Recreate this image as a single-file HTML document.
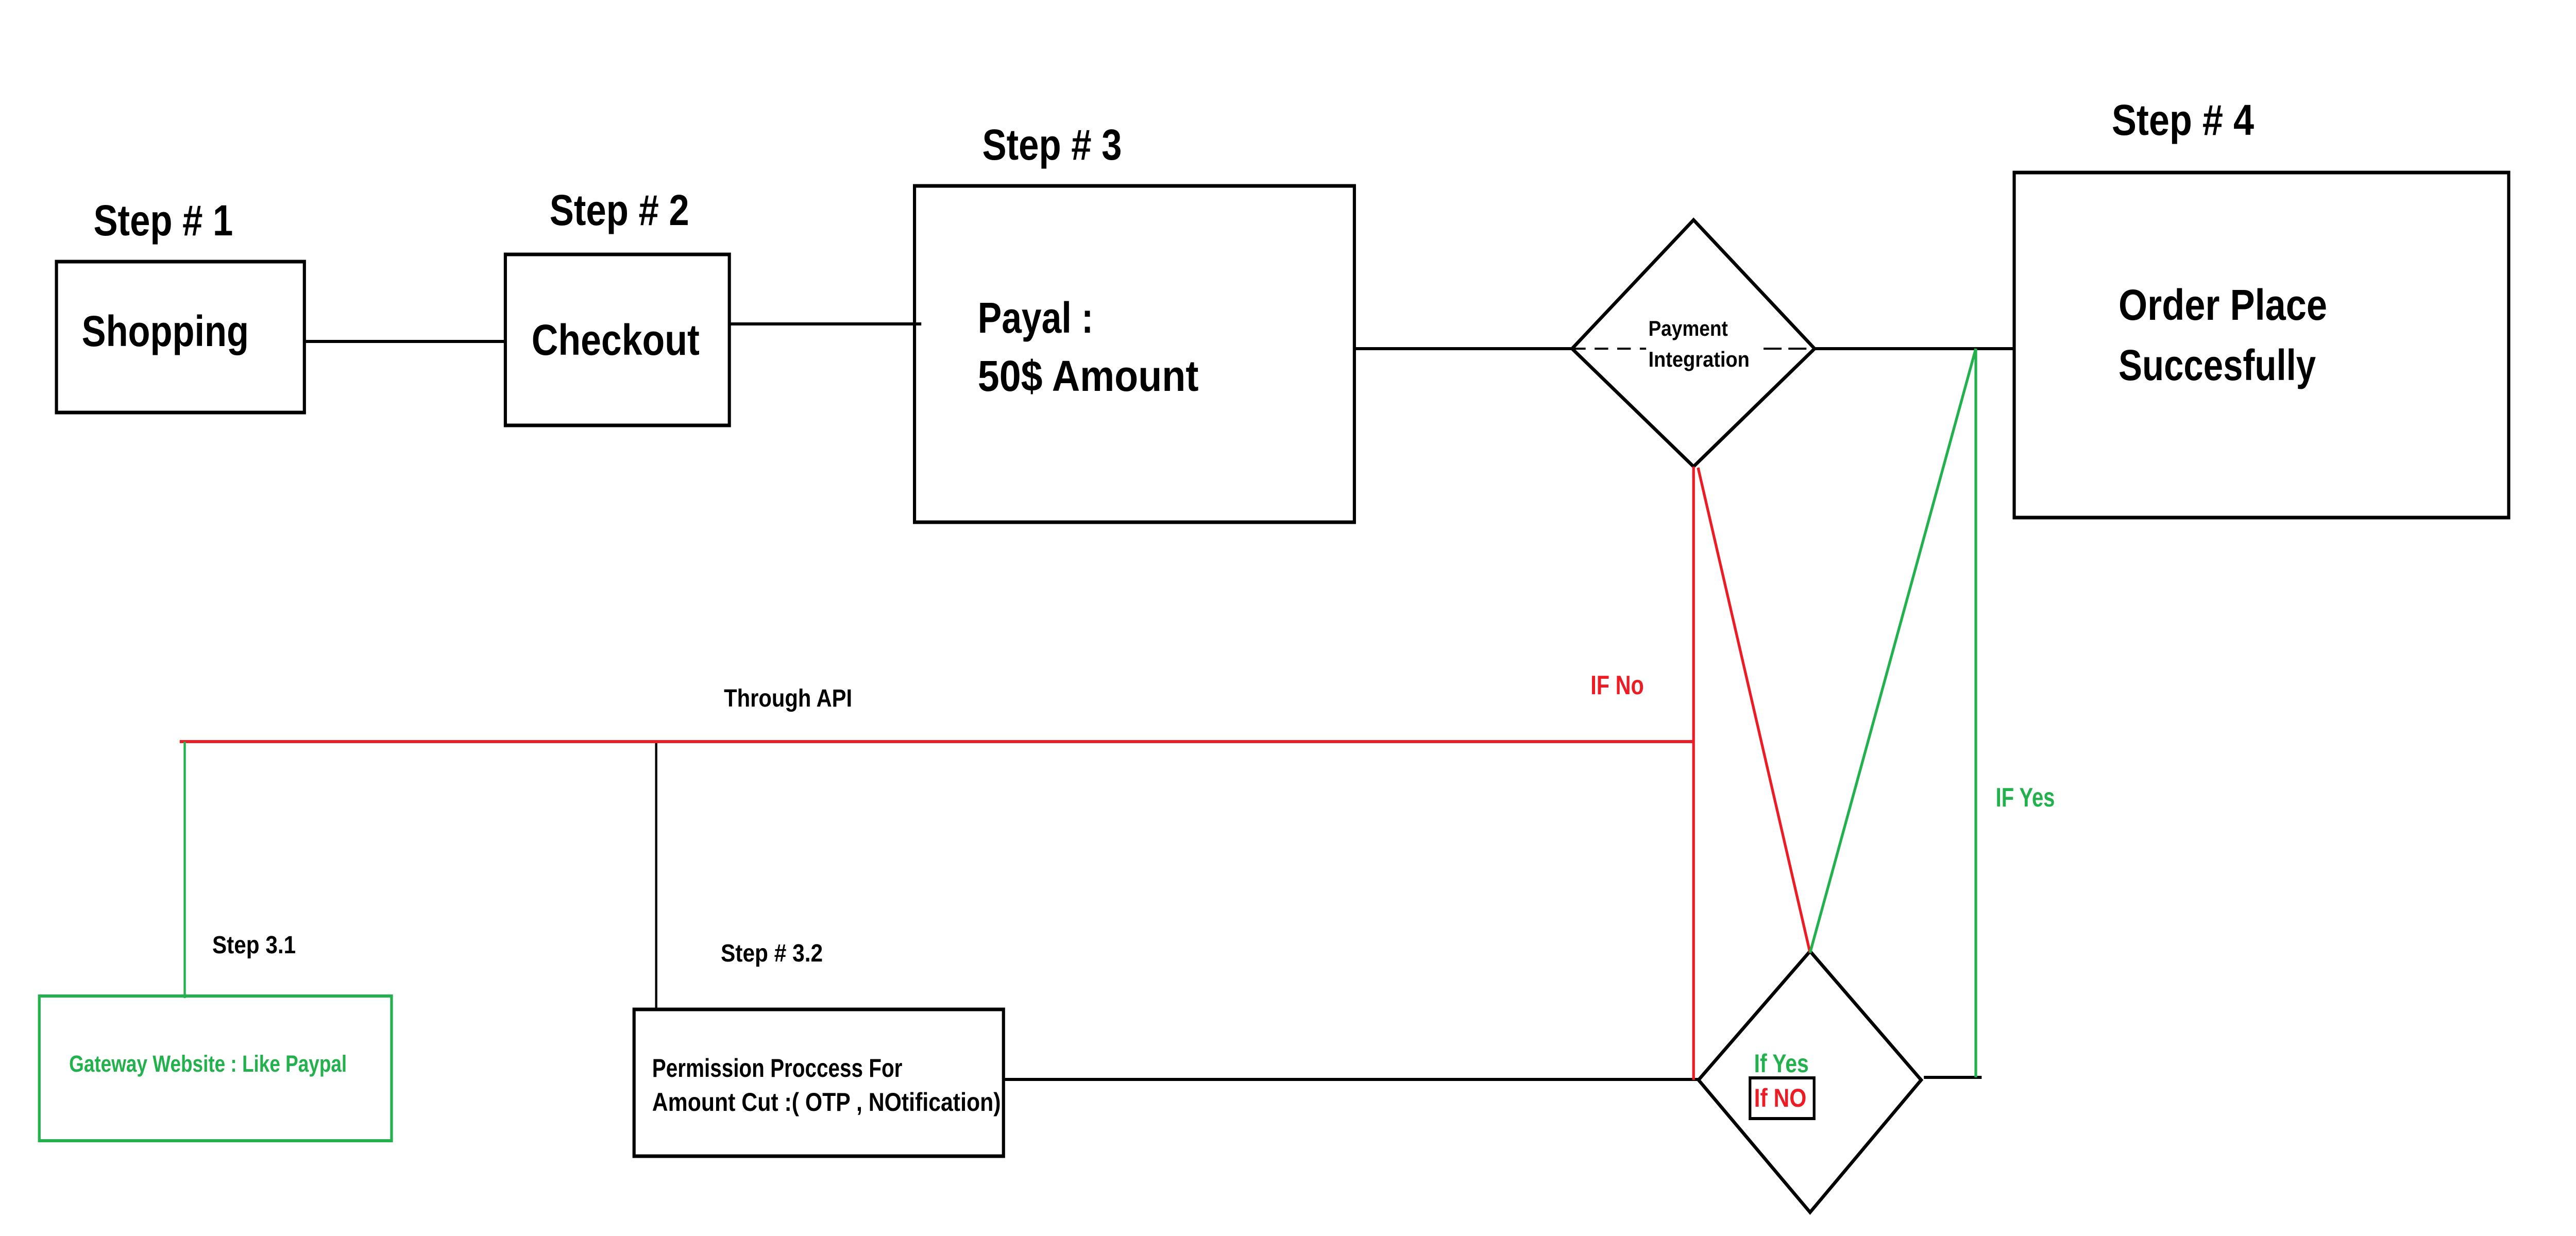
<!DOCTYPE html>
<html><head><meta charset="utf-8"><style>html,body{margin:0;padding:0;background:#fff;overflow:hidden;width:100vw;height:100vh}svg{display:block;width:100vw;height:100vh}text{font-family:"Liberation Sans",sans-serif;font-weight:bold}</style></head>
<body>
<svg viewBox="0 0 5704 2400" preserveAspectRatio="none" xmlns="http://www.w3.org/2000/svg">
<rect width="5704" height="2400" fill="#fff"/>
<g fill="none" stroke="#000" stroke-width="7">
<rect x="125" y="508" width="549" height="293"/>
<rect x="1119" y="494" width="496" height="332"/>
<rect x="2025" y="361" width="974" height="653"/>
<rect x="4460" y="335" width="1095" height="670"/>
<polygon points="3481,677 3750,427 4018,677 3750,906"/>
<polygon points="4008,1847 4254,2097 4008,2354 3761,2097"/>
<rect x="1404" y="1960" width="818" height="285"/>
<rect x="3875" y="2093" width="142" height="79" stroke-width="6"/>
</g>
<g stroke="#000" stroke-width="6" fill="none">
<line x1="674" y1="663" x2="1119" y2="663"/>
<line x1="1615" y1="629" x2="2040" y2="629"/>
<line x1="2999" y1="677" x2="3481" y2="677"/>
<line x1="4018" y1="677" x2="4460" y2="677"/>
<line x1="3481" y1="677" x2="3645" y2="677" stroke-dasharray="30,20" stroke-width="4"/>
<line x1="3905" y1="677" x2="4018" y2="677" stroke-dasharray="40,15" stroke-width="4"/>
<line x1="1453" y1="1440" x2="1453" y2="1960" stroke-width="5"/>
<line x1="2222" y1="2096" x2="3761" y2="2096"/>
<line x1="4260" y1="2092" x2="4388" y2="2092"/>
</g>
<g stroke="#ED1C24" stroke-width="6" fill="none">
<line x1="398" y1="1440" x2="3750" y2="1440"/>
<line x1="3750" y1="906" x2="3750" y2="2097"/>
<line x1="3760" y1="908" x2="4008" y2="1850"/>
</g>
<g stroke="#22B14C" stroke-width="6" fill="none">
<line x1="409" y1="1440" x2="409" y2="1938" stroke-width="5"/>
<line x1="4008" y1="1850" x2="4375" y2="677"/>
<line x1="4375" y1="677" x2="4375" y2="2092"/>
<rect x="87" y="1934" width="780" height="281"/>
</g>
<g fill="#000">
<text x="207" y="457" font-size="84" textLength="309" lengthAdjust="spacingAndGlyphs">Step # 1</text>
<text x="1217" y="437" font-size="84" textLength="309" lengthAdjust="spacingAndGlyphs">Step # 2</text>
<text x="2175" y="310" font-size="84" textLength="309" lengthAdjust="spacingAndGlyphs">Step # 3</text>
<text x="4676" y="262" font-size="84" textLength="315" lengthAdjust="spacingAndGlyphs">Step # 4</text>
<text x="181" y="672" font-size="84" textLength="370" lengthAdjust="spacingAndGlyphs">Shopping</text>
<text x="1177" y="689" font-size="84" textLength="372" lengthAdjust="spacingAndGlyphs">Checkout</text>
<text x="2165" y="646" font-size="84" textLength="256" lengthAdjust="spacingAndGlyphs">Payal :</text>
<text x="2165" y="759" font-size="84" textLength="489" lengthAdjust="spacingAndGlyphs">50$ Amount</text>
<text x="4691" y="621" font-size="84" textLength="462" lengthAdjust="spacingAndGlyphs">Order Place</text>
<text x="4691" y="738" font-size="84" textLength="437" lengthAdjust="spacingAndGlyphs">Succesfully</text>
<text x="3650" y="652" font-size="42" textLength="176" lengthAdjust="spacingAndGlyphs">Payment</text>
<text x="3650" y="712" font-size="42" textLength="224" lengthAdjust="spacingAndGlyphs">Integration</text>
<text x="1603" y="1372" font-size="48" textLength="284" lengthAdjust="spacingAndGlyphs">Through API</text>
<text x="470" y="1851" font-size="48" textLength="185" lengthAdjust="spacingAndGlyphs">Step 3.1</text>
<text x="1596" y="1867" font-size="48" textLength="226" lengthAdjust="spacingAndGlyphs">Step # 3.2</text>
<text x="1444" y="2091" font-size="50" textLength="554" lengthAdjust="spacingAndGlyphs">Permission Proccess For</text>
<text x="1444" y="2157" font-size="50" textLength="772" lengthAdjust="spacingAndGlyphs">Amount Cut :( OTP , NOtification)</text>
</g>
<g fill="#ED1C24">
<text x="3522" y="1348" font-size="52" textLength="118" lengthAdjust="spacingAndGlyphs">IF No</text>
<text x="3884" y="2149" font-size="50" textLength="116" lengthAdjust="spacingAndGlyphs">If NO</text>
</g>
<g fill="#22B14C">
<text x="4419" y="1566" font-size="52" textLength="131" lengthAdjust="spacingAndGlyphs">IF Yes</text>
<text x="3884" y="2082" font-size="50" textLength="121" lengthAdjust="spacingAndGlyphs">If Yes</text>
<text x="153" y="2081" font-size="45" textLength="615" lengthAdjust="spacingAndGlyphs">Gateway Website : Like Paypal</text>
</g>
</svg>
</body></html>
